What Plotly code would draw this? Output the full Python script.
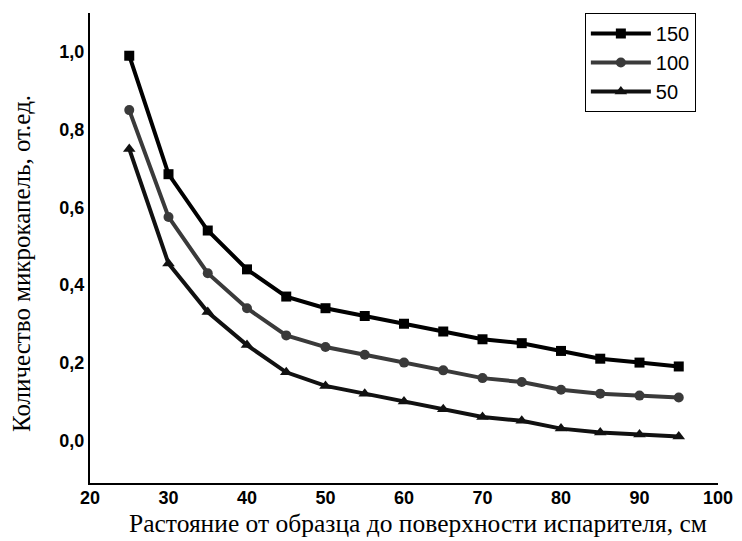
import plotly.graph_objects as go

distance = [25, 30, 35, 40, 45, 50, 55, 60, 65, 70, 75, 80, 85, 90, 95]
series_names = ["150", "100", "50"]
s150 = [0.99, 0.685, 0.54, 0.44, 0.37, 0.34, 0.32, 0.30, 0.28, 0.26, 0.25, 0.23, 0.21, 0.20, 0.19]
s100 = [0.85, 0.575, 0.43, 0.34, 0.27, 0.24, 0.22, 0.20, 0.18, 0.16, 0.15, 0.13, 0.12, 0.115, 0.11]
s50 = [0.75, 0.455, 0.33, 0.245, 0.175, 0.14, 0.12, 0.10, 0.08, 0.06, 0.05, 0.03, 0.02, 0.015, 0.01]

x_ticks = [20, 30, 40, 50, 60, 70, 80, 90, 100]
y_ticks = [0.0, 0.2, 0.4, 0.6, 0.8, 1.0]
y_ticktext = ["0,0", "0,2", "0,4", "0,6", "0,8", "1,0"]

styles = [
    dict(color="#000000", symbol="square", size=10),
    dict(color="#3a3a3a", symbol="circle", size=10),
    dict(color="#111111", symbol="triangle-up", size=11),
]

fig = go.Figure()
for name, vals, st in zip(series_names, [s150, s100, s50], styles):
    fig.add_trace(go.Scatter(
        x=distance, y=vals, name=name, mode="lines+markers",
        line=dict(color=st["color"], width=4),
        marker=dict(symbol=st["symbol"], size=st["size"], color=st["color"]),
    ))

tick_font = dict(family="Liberation Sans", size=18, color="black", weight="bold")

fig.update_layout(
    width=742, height=541,
    margin=dict(l=90, r=24, t=13, b=58),
    paper_bgcolor="white", plot_bgcolor="white",
    showlegend=True,
    legend=dict(
        x=0.788, y=1.0, xanchor="left", yanchor="top",
        bgcolor="white", bordercolor="black", borderwidth=1,
        font=dict(family="Liberation Sans", size=20, color="black"),
        tracegroupgap=0, itemwidth=60,
    ),
    xaxis=dict(
        range=[20, 100], tickvals=x_ticks, ticks="", showgrid=False, zeroline=False,
        showline=True, linecolor="black", linewidth=2, tickfont=tick_font,
        automargin=False, ticklabelstandoff=-3,
    ),
    yaxis=dict(
        range=[-0.11, 1.1], tickvals=y_ticks, ticktext=y_ticktext, ticks="", showgrid=False, zeroline=False,
        showline=True, linecolor="black", linewidth=2, tickfont=tick_font,
        automargin=False,
    ),
    annotations=[
        dict(text="Растояние от образца до поверхности испарителя, см", xref="paper", yref="paper",
             x=0.522, y=0, yshift=-40, xanchor="center", yanchor="middle", showarrow=False,
             font=dict(family="Liberation Serif", size=25.5, color="black")),
        dict(text="Количество микрокапель, от.ед.", xref="paper", yref="paper",
             x=0, xshift=-68, y=0.466, xanchor="center", yanchor="middle", textangle=-90, showarrow=False,
             font=dict(family="Liberation Serif", size=25, color="black")),
    ],
)

fig.write_html("out.html")
